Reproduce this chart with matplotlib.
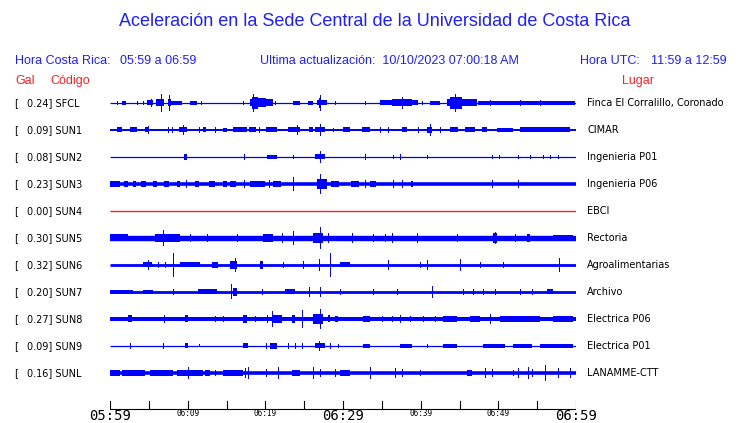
import matplotlib
matplotlib.use("Agg")
import matplotlib.pyplot as plt
import numpy as np

###############################################
#
# data (minutes after 05:59, half amplitude in px)
#
###############################################

codes = ["SFCL", "SUN1", "SUN2", "SUN3", "SUN4", "SUN5", "SUN6", "SUN7", "SUN8", "SUN9", "SUNL"]
gal = [0.24, 0.09, 0.08, 0.23, 0.00, 0.30, 0.32, 0.20, 0.27, 0.09, 0.16]
places = ["Finca El Corralillo, Coronado", "CIMAR", "Ingenieria P01", "Ingenieria P06", "EBCI",
          "Rectoria", "Agroalimentarias", "Archivo", "Electrica P06", "Electrica P01", "LANAMME-CTT"]

# background noise half width of every trace
base = [0.6, 1.0, 0.6, 1.8, 0.7, 2.7, 1.4, 1.4, 2.0, 0.6, 1.8]

# bursts: (start, end, half amplitude)
sfcl = [(0.90, 0.90, 2), (1.55, 2.06, 2), (3.48, 3.48, 2), (4.25, 4.25, 2), (4.76, 5.54, 2.5), (5.28, 5.28, 4),
        (5.92, 6.95, 3.5), (6.57, 6.57, 9), (7.47, 7.85, 3.5), (7.60, 7.60, 8), (7.85, 9.27, 1.8),
        (10.30, 11.20, 1.8), (11.72, 11.72, 2), (17.12, 17.12, 2), (18.03, 20.99, 3.5), (19.06, 20.09, 4.5),
        (18.28, 19.06, 6), (18.41, 18.41, 9), (21.25, 21.25, 2), (23.56, 24.46, 1.8), (25.49, 26.14, 1.8),
        (26.65, 27.94, 2.5), (26.91, 27.17, 5), (27.04, 27.04, 8), (28.97, 28.97, 2), (32.83, 32.83, 2),
        (34.77, 39.66, 2.5), (36.31, 38.88, 3.5), (37.60, 37.60, 6), (40.17, 40.17, 2), (41.20, 42.49, 1.8),
        (43.39, 47.25, 3.5), (43.78, 45.32, 6), (44.42, 44.42, 9), (47.38, 59.87, 1.8), (48.93, 48.93, 3),
        (52.79, 52.79, 3), (55.37, 55.37, 3)]
sun1 = [(0.90, 1.55, 2.5), (2.58, 3.48, 2.5), (4.51, 4.89, 2.5), (4.89, 4.89, 4), (7.47, 7.47, 3), (7.98, 7.98, 3),
        (8.88, 9.91, 2.5), (9.40, 9.40, 5), (11.46, 11.46, 3), (11.97, 12.36, 2.5), (13.52, 13.52, 3),
        (14.55, 15.06, 2), (15.84, 17.64, 2.5), (17.90, 18.80, 2.5), (19.19, 19.19, 3), (20.09, 21.50, 2.5),
        (22.92, 24.46, 2.5), (24.08, 24.08, 5), (25.62, 26.14, 2.5), (26.40, 27.68, 2.5), (27.04, 27.04, 6),
        (28.71, 28.71, 2), (30.00, 30.90, 2.5), (32.45, 33.48, 2.5), (34.77, 34.77, 3), (35.80, 35.80, 3),
        (37.60, 38.24, 2.5), (39.66, 39.66, 3), (40.82, 41.46, 3), (41.20, 41.20, 6), (42.49, 42.49, 3),
        (43.78, 44.81, 2.5), (45.71, 46.97, 2.5), (47.90, 48.54, 2.5), (49.83, 51.89, 2), (52.79, 55.37, 2.5),
        (55.37, 59.23, 2.5)]
sun2 = [(9.53, 9.91, 3), (17.25, 17.25, 3), (20.22, 21.50, 2), (23.56, 23.56, 2), (26.40, 27.68, 2.5),
        (27.04, 27.04, 6), (32.83, 32.83, 3), (36.44, 36.44, 2), (37.34, 37.34, 3), (40.82, 40.82, 2),
        (49.19, 49.19, 2), (50.09, 50.09, 2), (52.53, 52.53, 2), (54.08, 54.08, 2), (55.75, 55.75, 2),
        (56.65, 56.65, 2), (57.68, 57.68, 2)]
sun3 = [(0.0, 1.3, 2.7), (1.8, 2.3, 2.7), (3.0, 3.4, 2.7), (4.0, 4.6, 2.7), (5.5, 6.0, 2.7), (7.0, 7.6, 2.7),
        (8.6, 9.0, 2.7), (9.79, 9.79, 4), (11.0, 11.4, 2.7), (12.8, 13.5, 2.7), (14.6, 15.0, 2.7),
        (15.5, 16.2, 2.7), (17.25, 17.25, 4), (18.0, 20.0, 2.7), (20.47, 20.47, 4), (21.0, 22.0, 2.7),
        (23.56, 23.56, 7), (26.65, 27.94, 5), (27.04, 27.04, 10), (28.5, 29.5, 2.7), (31.0, 32.0, 2.7),
        (32.83, 32.83, 4), (33.5, 34.3, 2.7), (36.44, 36.44, 4), (37.60, 37.60, 4), (38.8, 39.0, 2.7),
        (49.19, 49.19, 4), (52.53, 52.53, 4)]
sun4 = []
sun5 = [(0.0, 2.32, 3.5), (5.79, 9.01, 4), (6.82, 6.82, 8), (10.30, 10.30, 4), (12.49, 12.49, 4),
        (16.35, 16.35, 4), (19.70, 20.99, 4), (22.15, 22.15, 5), (23.56, 23.56, 7), (26.14, 27.43, 5),
        (27.04, 27.04, 11), (28.07, 28.07, 5), (31.16, 31.16, 5), (33.86, 33.86, 4), (35.41, 35.41, 4),
        (36.31, 36.31, 5), (39.53, 39.53, 5), (44.68, 44.68, 4), (49.31, 49.83, 5), (49.57, 49.57, 6),
        (52.15, 52.15, 4), (53.69, 54.08, 4), (57.04, 59.61, 3.3)]
sun6 = [(4.25, 5.41, 2.5), (4.89, 4.89, 5), (6.18, 6.18, 3), (7.08, 7.08, 3), (8.11, 8.11, 12),
        (9.01, 11.59, 2.5), (13.13, 13.91, 3), (15.45, 16.35, 4), (16.10, 16.10, 7), (19.31, 19.70, 4),
        (22.28, 22.28, 3), (24.85, 24.85, 4), (26.91, 26.91, 6), (28.33, 28.33, 12), (29.61, 30.90, 2.5),
        (35.80, 35.80, 5), (39.92, 39.92, 3), (40.82, 40.82, 5), (45.07, 45.07, 6), (47.64, 47.64, 3),
        (50.60, 50.60, 3), (57.81, 57.81, 7)]
sun7 = [(0.0, 2.96, 2.3), (4.25, 5.54, 2.3), (8.11, 8.11, 3), (11.33, 13.78, 2.5), (15.58, 15.58, 7.5),
        (15.84, 16.35, 4), (19.57, 19.57, 3), (22.53, 23.82, 2.5), (25.62, 25.62, 5), (27.04, 27.04, 5),
        (29.61, 29.61, 3), (33.86, 33.86, 3), (36.95, 36.95, 3), (41.46, 41.46, 6), (45.45, 45.45, 3),
        (46.74, 46.74, 3), (48.03, 48.03, 3), (49.57, 49.57, 3), (52.79, 52.79, 3), (54.34, 54.34, 3),
        (56.27, 57.04, 2.5)]
sun8 = [(2.32, 2.83, 3.5), (6.95, 6.95, 4), (9.66, 10.04, 3.5), (13.52, 13.52, 3), (14.55, 14.55, 3),
        (17.12, 17.64, 4), (18.67, 18.67, 3), (20.22, 20.22, 4), (20.86, 20.86, 8), (20.99, 22.15, 4),
        (23.43, 23.82, 4), (24.72, 24.72, 9), (26.14, 27.43, 5), (27.04, 27.04, 10), (28.07, 28.33, 3.5),
        (28.97, 29.36, 3), (32.58, 33.48, 2.8), (35.02, 35.02, 3), (36.31, 36.31, 3), (37.34, 37.34, 4),
        (38.63, 38.63, 3), (40.30, 40.30, 3), (41.85, 41.85, 3), (42.88, 44.68, 3), (46.35, 47.64, 2.8),
        (48.93, 48.93, 5), (50.22, 55.37, 2.8), (57.04, 59.61, 2.8)]
sun9 = [(2.58, 2.58, 3), (6.82, 6.82, 3), (9.66, 10.04, 2.5), (11.46, 11.46, 1.5), (17.12, 17.77, 2.5),
        (20.09, 20.09, 3), (20.60, 21.50, 3), (22.92, 22.92, 3), (23.82, 23.82, 3), (24.72, 24.72, 3),
        (26.40, 27.68, 2.5), (26.91, 26.91, 5), (28.33, 28.33, 3), (29.36, 29.36, 2), (32.58, 33.48, 1.7),
        (37.34, 38.88, 1.7), (40.82, 40.82, 2), (42.88, 44.68, 1.7), (48.03, 50.86, 1.7), (51.89, 54.34, 1.7),
        (55.37, 59.61, 1.7)]
sunl = [(0.0, 1.30, 2.7), (1.55, 4.51, 2.7), (5.15, 8.11, 2.7), (8.63, 11.97, 2.7), (10.04, 10.04, 6),
        (12.23, 12.88, 2.7), (13.52, 13.52, 3), (14.55, 17.12, 2.7), (17.38, 17.38, 5), (17.77, 17.77, 6),
        (20.09, 20.09, 4), (21.63, 21.63, 6), (23.43, 24.46, 2.7), (26.14, 26.14, 6), (27.04, 27.04, 4),
        (28.97, 28.97, 4), (29.61, 30.90, 2.7), (33.48, 33.48, 6), (36.70, 36.70, 5), (37.60, 37.60, 4),
        (39.92, 39.92, 3), (45.97, 46.61, 3.3), (48.29, 48.29, 5), (49.19, 49.19, 4), (51.89, 51.89, 3),
        (52.53, 52.53, 5), (53.82, 53.82, 6), (54.34, 54.34, 4), (56.01, 56.01, 8), (57.68, 57.68, 5),
        (59.23, 59.23, 5)]
bursts = [sfcl, sun1, sun2, sun3, sun4, sun5, sun6, sun7, sun8, sun9, sunl]

tick_minutes = [0, 5, 10, 15, 20, 25, 30, 35, 40, 45, 50, 55, 60]
tick_labels = {0: "05:59", 10: "06:09", 20: "06:19", 30: "06:29", 40: "06:39", 50: "06:49", 60: "06:59"}
big_ticks = [0, 30, 60]

###############################################
#
# figure
#
###############################################

W, H = 740, 423
blue = "#1e1eff"
red = "#ff1e1e"

fig = plt.figure(figsize=(W / 100, H / 100), dpi=100)
fig.patch.set_facecolor("white")


def fx(x):
    return x / W


def fy(y):
    return 1 - y / H


# header
fig.text(fx(375), fy(22), "Aceleración en la Sede Central de la Universidad de Costa Rica",
         ha="center", va="center", color=blue, fontsize=13, family="Liberation Sans")
hdr = dict(va="center", color=blue, fontsize=9, family="Liberation Sans")
fig.text(fx(15), fy(61), "Hora Costa Rica:", ha="left", **hdr)
fig.text(fx(120), fy(61), "05:59 a 06:59", ha="left", **hdr)
fig.text(fx(260), fy(61), "Ultima actualización:  10/10/2023 07:00:18 AM", ha="left", **hdr)
fig.text(fx(580), fy(61), "Hora UTC:", ha="left", **hdr)
fig.text(fx(651), fy(61), "11:59 a 12:59", ha="left", **hdr)
red_hdr = dict(va="center", color=red, fontsize=9, family="Liberation Sans")
fig.text(fx(15), fy(81), "Gal", ha="left", **red_hdr)
fig.text(fx(50), fy(81), "Código", ha="left", **red_hdr)
fig.text(fx(622), fy(81), "Lugar", ha="left", **red_hdr)

# traces
ax = fig.add_axes([fx(110), 0, 466 / W, 1])
ax.set_xlim(0, 60)
ax.set_ylim(H, 0)
ax.axis("off")

for i, code in enumerate(codes):
    y = 103 + 27 * i
    col = red if gal[i] == 0 else "#0000ff"
    ax.hlines(y, 0, 60, color=col, linewidth=max(base[i] * 2 * 0.72, 0.9))
    if bursts[i]:
        ev = np.array(bursts[i], dtype=float)
        widths = np.maximum(ev[:, 1] - ev[:, 0], 0.16)
        ax.bar(ev[:, 0], 2 * ev[:, 2], width=widths, bottom=y - ev[:, 2], align="edge",
               color=col, linewidth=0)
    fig.text(fx(14), fy(y), "[", ha="left", va="center", fontsize=7, color="black")
    fig.text(fx(27), fy(y), "%.2f] %s" % (gal[i], code), ha="left", va="center", fontsize=7, color="black")
    fig.text(fx(587), fy(y), places[i], ha="left", va="center", fontsize=7, color="black")

# time axis
ax.plot([0, 60], [409, 409], color="black", linewidth=0.8)
for m in tick_minutes:
    ax.plot([m, m], [401, 409], color="black", linewidth=0.8)
    if m in tick_labels:
        if m in big_ticks:
            ax.text(m, 415.5, tick_labels[m], ha="center", va="center", fontsize=10,
                    family="DejaVu Sans Mono", color="black")
        else:
            ax.text(m, 414, tick_labels[m], ha="center", va="center", fontsize=5.5,
                    family="DejaVu Sans Mono", color="black")

plt.savefig("out.png", dpi=100)
